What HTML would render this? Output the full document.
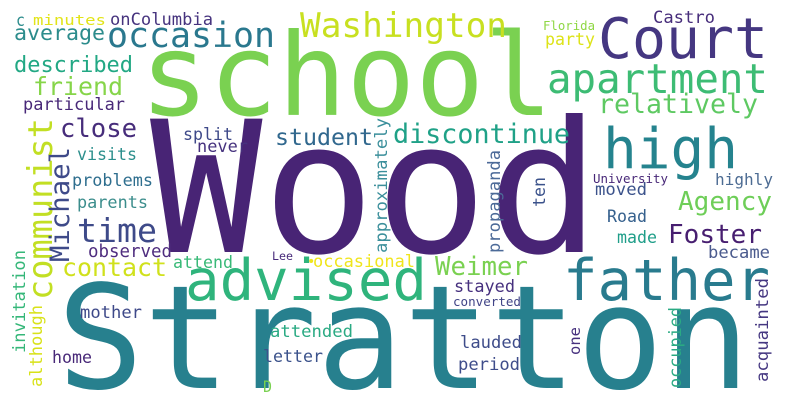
<!DOCTYPE html>
<html><head><meta charset="utf-8"><style>
html,body{margin:0;padding:0;background:#fff}
svg{display:block}
text{font-family:"DejaVu Sans Mono","Liberation Mono",monospace}
</style></head><body>
<svg width="790" height="405" viewBox="0 0 790 405">
<rect width="790" height="405" fill="#fff"/>
<g>
<text x="150" y="252" font-size="183" textLength="450" lengthAdjust="spacingAndGlyphs" fill="#482475">Wood</text>
<text x="140" y="115" font-size="114" textLength="413" lengthAdjust="spacingAndGlyphs" fill="#7ad151">school</text>
<text x="57" y="388" font-size="144" textLength="693" lengthAdjust="spacingAndGlyphs" fill="#27808e">Stratton</text>
<text x="185" y="300" font-size="57" textLength="242" lengthAdjust="spacingAndGlyphs" fill="#2fb47c">advised</text>
<text x="563" y="300" font-size="57" textLength="207" lengthAdjust="spacingAndGlyphs" fill="#297b8e">father</text>
<text x="598" y="58" font-size="56" textLength="170" lengthAdjust="spacingAndGlyphs" fill="#453781">Court</text>
<text x="603" y="168" font-size="56" textLength="135" lengthAdjust="spacingAndGlyphs" fill="#25838e">high</text>
<text x="547" y="93" font-size="41" textLength="221" lengthAdjust="spacingAndGlyphs" fill="#3dbc74">apartment</text>
<text x="300" y="37" font-size="34" textLength="207" lengthAdjust="spacingAndGlyphs" fill="#c8e020">Washington</text>
<text x="107" y="47" font-size="35" textLength="168" lengthAdjust="spacingAndGlyphs" fill="#2a788e">occasion</text>
<text x="598" y="113" font-size="26.5" textLength="160" lengthAdjust="spacingAndGlyphs" fill="#5ec962">relatively</text>
<text x="393" y="143" font-size="26.5" textLength="177" lengthAdjust="spacingAndGlyphs" fill="#1fa187">discontinue</text>
<text x="14" y="40" font-size="21.5" textLength="91" lengthAdjust="spacingAndGlyphs" fill="#2c8c8c">average</text>
<text x="14" y="72" font-size="22" textLength="119" lengthAdjust="spacingAndGlyphs" fill="#22a884">described</text>
<text x="33" y="95" font-size="25" textLength="90" lengthAdjust="spacingAndGlyphs" fill="#86d549">friend</text>
<text x="23" y="110" font-size="17" textLength="102" lengthAdjust="spacingAndGlyphs" fill="#482878">particular</text>
<text x="60" y="137" font-size="25.5" textLength="77" lengthAdjust="spacingAndGlyphs" fill="#472d7b">close</text>
<text x="183" y="140" font-size="16.6" textLength="50" lengthAdjust="spacingAndGlyphs" fill="#3e4989">split</text>
<text x="197" y="152" font-size="17" textLength="51" lengthAdjust="spacingAndGlyphs" fill="#46327e">never</text>
<text x="275" y="145" font-size="23.3" textLength="98" lengthAdjust="spacingAndGlyphs" fill="#31688e">student</text>
<text x="77" y="160" font-size="16.6" textLength="60" lengthAdjust="spacingAndGlyphs" fill="#2c8f8c">visits</text>
<text x="72" y="186" font-size="16.9" textLength="81" lengthAdjust="spacingAndGlyphs" fill="#2e6e8e">problems</text>
<text x="77" y="208" font-size="17" textLength="71" lengthAdjust="spacingAndGlyphs" fill="#3b8d8c">parents</text>
<text x="77" y="242" font-size="33" textLength="80" lengthAdjust="spacingAndGlyphs" fill="#3e4a89">time</text>
<text x="88" y="257" font-size="17.5" textLength="84" lengthAdjust="spacingAndGlyphs" fill="#4f2d7f">observed</text>
<text x="62" y="276" font-size="25" textLength="105" lengthAdjust="spacingAndGlyphs" fill="#d0e11c">contact</text>
<text x="173" y="268" font-size="16.6" textLength="60" lengthAdjust="spacingAndGlyphs" fill="#38b977">attend</text>
<text x="272" y="260" font-size="11.6" textLength="21" lengthAdjust="spacingAndGlyphs" fill="#472a7a">Lee</text>
<text x="307" y="266" font-size="14" fill="#f0e51c">•</text>
<text x="313" y="267" font-size="17" textLength="102" lengthAdjust="spacingAndGlyphs" fill="#f0e51c">occasional</text>
<text x="80" y="318" font-size="17.2" textLength="62" lengthAdjust="spacingAndGlyphs" fill="#3e4989">mother</text>
<text x="270" y="337" font-size="17.3" textLength="83" lengthAdjust="spacingAndGlyphs" fill="#2aaa83">attended</text>
<text x="52" y="363" font-size="16.6" textLength="40" lengthAdjust="spacingAndGlyphs" fill="#482878">home</text>
<text x="263" y="362" font-size="16.6" textLength="60" lengthAdjust="spacingAndGlyphs" fill="#3b528b">letter</text>
<text x="263" y="392" font-size="16" textLength="9" lengthAdjust="spacingAndGlyphs" fill="#7ad151">D</text>
<text x="435" y="275" font-size="25.7" textLength="93" lengthAdjust="spacingAndGlyphs" fill="#7ad151">Weimer</text>
<text x="454" y="292" font-size="17" textLength="61" lengthAdjust="spacingAndGlyphs" fill="#46307e">stayed</text>
<text x="453" y="306" font-size="12.6" textLength="68" lengthAdjust="spacingAndGlyphs" fill="#414487">converted</text>
<text x="460" y="348" font-size="17.2" textLength="62" lengthAdjust="spacingAndGlyphs" fill="#3e4c8a">lauded</text>
<text x="458" y="370" font-size="17.2" textLength="62" lengthAdjust="spacingAndGlyphs" fill="#3e4c8a">period</text>
<text x="607" y="222" font-size="16.6" textLength="40" lengthAdjust="spacingAndGlyphs" fill="#35608d">Road</text>
<text x="617" y="243" font-size="16.6" textLength="40" lengthAdjust="spacingAndGlyphs" fill="#1f9e89">made</text>
<text x="668" y="243" font-size="26" textLength="94" lengthAdjust="spacingAndGlyphs" fill="#471e70">Foster</text>
<text x="708" y="258" font-size="17.2" textLength="62" lengthAdjust="spacingAndGlyphs" fill="#4a5a8d">became</text>
<text x="678" y="210" font-size="26" textLength="94" lengthAdjust="spacingAndGlyphs" fill="#6ece58">Agency</text>
<text x="595" y="195" font-size="17.3" textLength="52" lengthAdjust="spacingAndGlyphs" fill="#3b528b">moved</text>
<text x="715" y="185" font-size="16" textLength="58" lengthAdjust="spacingAndGlyphs" fill="#4d6c93">highly</text>
<text x="593" y="183" font-size="12.5" textLength="75" lengthAdjust="spacingAndGlyphs" fill="#482878">University</text>
<text x="653" y="23" font-size="17" textLength="62" lengthAdjust="spacingAndGlyphs" fill="#472d7b">Castro</text>
<text x="543" y="30" font-size="12.3" textLength="52" lengthAdjust="spacingAndGlyphs" fill="#8fd744">Florida</text>
<text x="545" y="45" font-size="16.6" textLength="50" lengthAdjust="spacingAndGlyphs" fill="#dde318">party</text>
<text x="16" y="26" font-size="17" textLength="9" lengthAdjust="spacingAndGlyphs" fill="#2c8c8c">c</text>
<text x="33" y="25" font-size="14" textLength="73" lengthAdjust="spacingAndGlyphs" fill="#e2e418">minutes</text>
<text x="110" y="25" font-size="17" textLength="103" lengthAdjust="spacingAndGlyphs" fill="#46337e">onColumbia</text>
<text transform="translate(52,300) rotate(-90)" font-size="33.6" textLength="182" lengthAdjust="spacingAndGlyphs" fill="#c2df23">communist</text>
<text transform="translate(69,262) rotate(-90)" font-size="27" textLength="115" lengthAdjust="spacingAndGlyphs" fill="#3e4a89">Michael</text>
<text transform="translate(25,353) rotate(-90)" font-size="17" textLength="103" lengthAdjust="spacingAndGlyphs" fill="#35b779">invitation</text>
<text transform="translate(42,387) rotate(-90)" font-size="17" textLength="82" lengthAdjust="spacingAndGlyphs" fill="#d8e219">although</text>
<text transform="translate(387,253) rotate(-90)" font-size="17.3" textLength="135" lengthAdjust="spacingAndGlyphs" fill="#3b8f9b">approximately</text>
<text transform="translate(500,253) rotate(-90)" font-size="17" textLength="103" lengthAdjust="spacingAndGlyphs" fill="#4c6a98">propaganda</text>
<text transform="translate(545,207) rotate(-90)" font-size="16.6" textLength="30" lengthAdjust="spacingAndGlyphs" fill="#3b528b">ten</text>
<text transform="translate(580,355) rotate(-90)" font-size="15.5" textLength="28" lengthAdjust="spacingAndGlyphs" fill="#46307e">one</text>
<text transform="translate(681,388) rotate(-90)" font-size="17" textLength="81" lengthAdjust="spacingAndGlyphs" fill="#2aaa83">occupied</text>
<text transform="translate(768,382) rotate(-90)" font-size="17.3" textLength="104" lengthAdjust="spacingAndGlyphs" fill="#453781">acquainted</text>
</g>
</svg>
</body></html>
